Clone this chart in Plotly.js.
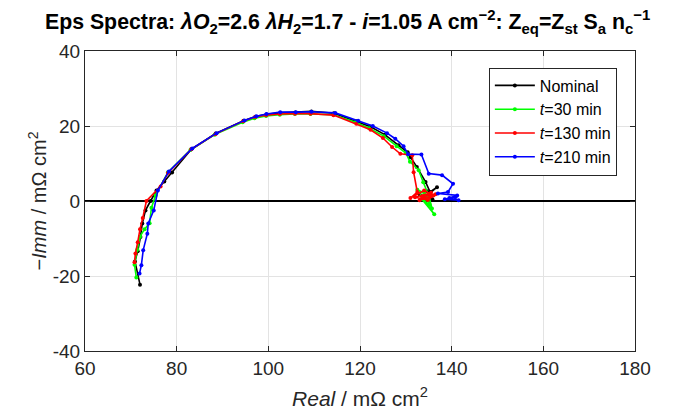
<!DOCTYPE html>
<html>
<head>
<meta charset="utf-8">
<script src="https://cdn.plot.ly/plotly-3.0.1.min.js"></script>
<style>html,body{margin:0;padding:0;background:#fff;}#chart{width:687px;height:415px;}</style>
</head>
<body>
<div id="chart"></div>
<script>
const seriesNames = ["Nominal", "<i>t</i>=30 min", "<i>t</i>=130 min", "<i>t</i>=210 min"];
const seriesColors = ["#000000", "#00ff00", "#ff0000", "#0000ff"];

const nominalRe = [72.0, 70.9, 71.5, 72.1, 72.5, 73.2, 74.3, 75.6, 77.3, 79.0, 83.2, 88.5, 94.6, 97.2, 99.6, 102.6, 105.9, 109.4, 114.3, 119.2, 122.3, 125.4, 128.4, 130.4, 131.0, 132.4, 134.3, 135.3, 136.8, 134.2, 133.0, 135.8, 134.6];
const nominalIm = [-22.3, -16.1, -13.4, -9.6, -6.0, -2.5, 0.0, 2.8, 5.2, 7.6, 13.8, 18.0, 21.4, 22.5, 23.1, 23.5, 23.6, 23.9, 23.4, 21.3, 19.8, 17.7, 14.9, 13.0, 11.7, 9.1, 5.1, 2.4, 3.7, 1.0, 1.8, 0.5, 2.6];

const t30Re = [71.2, 70.8, 71.4, 72.0, 73.0, 74.1, 74.5, 75.4, 78.1, 83.0, 88.3, 94.4, 97.0, 99.5, 102.5, 105.8, 109.2, 114.2, 119.0, 122.0, 125.2, 128.0, 130.0, 130.9, 132.8, 133.8, 135.0, 135.7, 134.0, 132.5, 136.2, 133.5, 135.2];
const t30Im = [-20.4, -17.0, -13.0, -9.5, -7.5, -5.9, -1.8, 1.5, 7.7, 13.6, 17.7, 21.0, 22.1, 22.7, 23.0, 23.2, 23.2, 23.0, 21.0, 19.4, 17.3, 14.6, 12.8, 10.5, 8.2, 5.0, 1.5, -2.0, 2.2, 3.0, -3.5, 0.5, -1.0];

const t130Re = [70.8, 71.0, 71.5, 72.0, 72.6, 73.4, 76.5, 78.1, 83.2, 88.5, 94.5, 97.1, 99.5, 102.5, 105.8, 109.2, 114.2, 119.2, 122.3, 125.0, 127.0, 128.8, 131.4, 131.7, 132.5, 131.0, 134.0, 136.0, 133.0, 135.5, 132.0, 134.8, 136.5, 133.5];
const t130Im = [-16.3, -14.0, -11.0, -7.5, -4.5, 0.0, 3.9, 7.5, 13.8, 17.9, 21.3, 22.4, 22.9, 23.2, 23.3, 23.3, 22.9, 20.6, 19.0, 16.8, 14.4, 12.6, 12.2, 7.7, 2.4, 0.8, 2.8, 1.5, 0.2, 2.2, 1.0, 0.3, 1.8, 1.2];

const t210Re = [71.9, 72.3, 72.7, 73.6, 73.8, 75.0, 75.9, 78.3, 83.4, 88.7, 94.8, 97.4, 99.6, 102.6, 106.0, 109.4, 114.6, 119.6, 122.8, 125.9, 127.7, 129.5, 130.5, 133.4, 135.0, 137.9, 140.3, 139.2, 137.0, 141.2, 139.5, 141.5, 138.5, 140.8];
const t210Im = [-19.3, -17.1, -13.1, -8.7, -6.0, -2.5, 2.8, 7.9, 14.0, 18.1, 21.5, 22.6, 23.2, 23.7, 23.7, 23.8, 23.5, 21.4, 20.0, 18.1, 16.6, 14.6, 12.5, 12.4, 7.3, 6.9, 4.6, 2.4, 2.0, 1.5, 0.8, 0.2, 0.5, 1.0];

const xTicks = [60, 80, 100, 120, 140, 160, 180];
const yTicks = [-40, -20, 0, 20, 40];

const xs = [nominalRe, t30Re, t130Re, t210Re];
const ys = [nominalIm, t30Im, t130Im, t210Im];

const traces = xs.map((x, i) => ({
  x: x, y: ys[i], type: 'scatter', mode: 'lines+markers',
  name: seriesNames[i],
  line: {color: seriesColors[i], width: 1.6},
  marker: {color: seriesColors[i], size: 4}
}));

const FONT = 'Liberation Sans, Arial, sans-serif';
const axisCommon = {
  showline: true, linecolor: '#262626', linewidth: 1, mirror: 'ticks',
  ticks: 'inside', ticklen: 5, tickcolor: '#262626',
  showgrid: true, gridcolor: '#e3e3e3', gridwidth: 1,
  tickfont: {family: FONT, size: 19, color: '#262626'}
};

const layout = {
  width: 687, height: 415,
  margin: {l: 85, r: 52, t: 51, b: 64},
  paper_bgcolor: '#ffffff', plot_bgcolor: '#ffffff',
  font: {family: FONT, color: '#262626'},
  title: {
    text: '<b>Eps Spectra: <i>λO</i><sub>2</sub>=2.6 <i>λH</i><sub>2</sub>=1.7 - <i>i</i>=1.05 A cm<sup>−2</sup>: Z<sub>eq</sub>=Z<sub>st</sub> S<sub>a</sub> n<sub>c</sub><sup>−1</sup></b>',
    font: {family: FONT, size: 21.3, color: '#000000'},
    x: 0.506, xanchor: 'center', xref: 'container', y: 0.948, yanchor: 'middle'
  },
  xaxis: Object.assign({}, axisCommon, {
    range: [60, 180], tickvals: xTicks, ticktext: xTicks.map(String), zeroline: false,
    title: {text: '<i>Real</i> / mΩ cm<sup>2</sup>', font: {family: FONT, size: 21, color: '#262626'}, standoff: 13}
  }),
  yaxis: Object.assign({}, axisCommon, {
    range: [-40, 40], tickvals: yTicks, ticktext: yTicks.map(String),
    zeroline: true, zerolinecolor: '#000000', zerolinewidth: 2,
    title: {text: '−<i>Imm</i> / mΩ cm<sup>2</sup>', font: {family: FONT, size: 20, color: '#262626'}, standoff: 0}
  }),
  showlegend: true,
  legend: {
    x: 0.967, xanchor: 'right', y: 0.945, yanchor: 'top',
    bgcolor: '#ffffff', bordercolor: '#262626', borderwidth: 1,
    font: {family: FONT, size: 16, color: '#000000'},
    tracegroupgap: 0, itemwidth: 40
  }
};

Plotly.newPlot('chart', traces, layout, {displayModeBar: false, staticPlot: true});
</script>
</body>
</html>
